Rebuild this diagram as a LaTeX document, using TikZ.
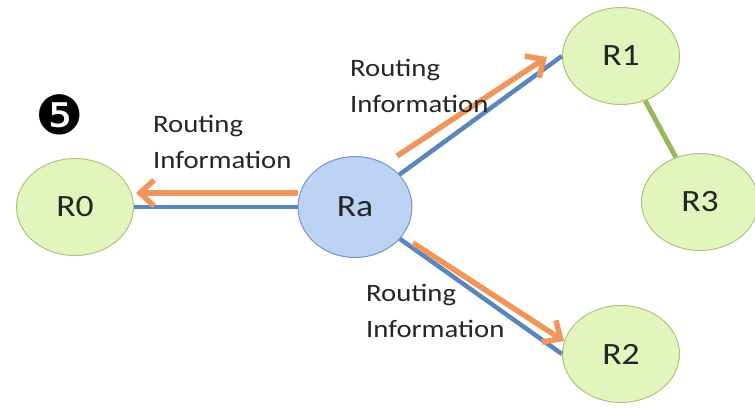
\documentclass[tikz,border=0pt]{standalone}
\usepackage{fontspec}
\setmainfont{Carlito}[FakeStretch=1.15]
\newfontfamily\dejavu{DejaVu Sans}
\usetikzlibrary{arrows.meta,shapes.geometric}
\definecolor{gfill}{HTML}{E3F4BC}
\definecolor{gdraw}{HTML}{A9C77A}
\definecolor{bfill}{HTML}{BCD3F3}
\definecolor{bdraw}{HTML}{7396CC}
\definecolor{orangec}{HTML}{F2955A}
\definecolor{bluec}{HTML}{5A86BE}
\definecolor{greenc}{HTML}{98B85C}
\definecolor{txt}{HTML}{252525}
\begin{document}
\begin{tikzpicture}[x=1pt,y=-1pt,
  router/.style={ellipse, draw=gdraw, line width=1pt, fill=gfill, minimum width=117pt, minimum height=97pt, inner sep=0pt, font=\fontsize{31}{36}\selectfont, text=txt},
  rhub/.style={router, draw=bdraw, fill=bfill, minimum width=114pt, minimum height=101pt},
  blueline/.style={draw=bluec, line width=4.5pt},
  orangearrow/.style={draw=orangec, line width=5.5pt, -{Straight Barb[length=14pt,width=26pt]}},
  greenline/.style={draw=greenc, line width=5pt},
  lbl/.style={align=left, anchor=base west, inner sep=0pt, font=\fontsize{25}{36}\selectfont, text=txt}]
\useasboundingbox (0,0) rectangle (755,408);
\node[router] (R0) at (75,207) {R0};
\node[rhub] (Ra) at (355,207) {Ra};
\node[router] (R1) at (621,56) {R1};
\node[router] (R3) at (700,202) {R3};
\node[router] (R2) at (621,354) {R2};
\draw[blueline] (Ra) -- (R0);
\draw[blueline] (Ra) -- (R1.west);
\draw[blueline] (Ra) -- (R2.west);
\draw[greenline] (R1) -- (R3);
\coordinate (o0s) at (298,193);
\coordinate (o0e) at (136,193);
\coordinate (o1s) at (397,156);
\coordinate (o1e) at (547,57);
\coordinate (o2s) at (413,243);
\coordinate (o2e) at (564,341);
\draw[orangearrow] (o0s) -- (o0e);
\draw[orangearrow] (o1s) -- (o1e);
\draw[orangearrow] (o2s) -- (o2e);
\node[lbl] (L0) at (153,168) {Routing\\Information};
\node[lbl] (L1) at (350,112) {Routing\\Information};
\node[lbl] (L2) at (366,337) {Routing\\Information};
\node[font=\dejavu\fontsize{54}{54}\selectfont, inner sep=0pt] (five) at (60,115) {❺};
\end{tikzpicture}
\end{document}
